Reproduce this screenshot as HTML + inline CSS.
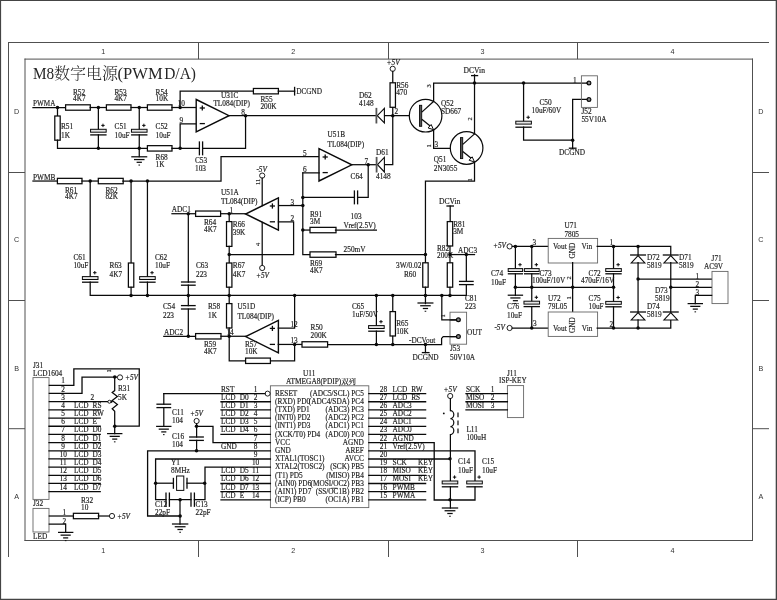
<!DOCTYPE html>
<html lang="zh">
<head>
<meta charset="utf-8">
<title>M8数字电源(PWM D/A)</title>
<style>
html,body{margin:0;padding:0;background:#fff;}
body{width:777px;height:600px;overflow:hidden;}
svg{display:block;filter:grayscale(1);}
svg{font-family:"Liberation Serif","Noto Serif CJK SC",serif;font-size:7.3px;fill:#1c1c1c;}
svg text{stroke:#222;stroke-width:0.16px;}
</style>
</head>
<body>
<svg width="777" height="600" viewBox="0 0 777 600">
<rect x="0" y="0" width="777" height="600" fill="#fff"/>
<g>
<path d="M0,0H777V600H0Z M1.1,1V598.7H775.7V1Z" fill="#444" fill-rule="evenodd"/>
<line x1="8" y1="42.5" x2="769" y2="42.5" stroke="#505050" stroke-width="1" stroke-linecap="butt"/>
<line x1="8.5" y1="42" x2="8.5" y2="557" stroke="#505050" stroke-width="1" stroke-linecap="butt"/>
<line x1="25" y1="58.6" x2="25" y2="541" stroke="#505050" stroke-width="1" stroke-linecap="butt"/>
<line x1="24.5" y1="59.1" x2="753" y2="59.1" stroke="#505050" stroke-width="1" stroke-linecap="butt"/>
<line x1="752.5" y1="58.6" x2="752.5" y2="541" stroke="#505050" stroke-width="1" stroke-linecap="butt"/>
<line x1="24.5" y1="540.5" x2="753" y2="540.5" stroke="#505050" stroke-width="1" stroke-linecap="butt"/>
<line x1="198.5" y1="42.5" x2="198.5" y2="59.1" stroke="#505050" stroke-width="1" stroke-linecap="butt"/>
<line x1="198.5" y1="540.5" x2="198.5" y2="557" stroke="#505050" stroke-width="1" stroke-linecap="butt"/>
<line x1="388.5" y1="42.5" x2="388.5" y2="59.1" stroke="#505050" stroke-width="1" stroke-linecap="butt"/>
<line x1="388.5" y1="540.5" x2="388.5" y2="557" stroke="#505050" stroke-width="1" stroke-linecap="butt"/>
<line x1="577.5" y1="42.5" x2="577.5" y2="59.1" stroke="#505050" stroke-width="1" stroke-linecap="butt"/>
<line x1="577.5" y1="540.5" x2="577.5" y2="557" stroke="#505050" stroke-width="1" stroke-linecap="butt"/>
<line x1="8.5" y1="172.5" x2="25" y2="172.5" stroke="#505050" stroke-width="1" stroke-linecap="butt"/>
<line x1="752.5" y1="172.5" x2="769" y2="172.5" stroke="#505050" stroke-width="1" stroke-linecap="butt"/>
<line x1="8.5" y1="300.5" x2="25" y2="300.5" stroke="#505050" stroke-width="1" stroke-linecap="butt"/>
<line x1="752.5" y1="300.5" x2="769" y2="300.5" stroke="#505050" stroke-width="1" stroke-linecap="butt"/>
<line x1="8.5" y1="428.7" x2="25" y2="428.7" stroke="#505050" stroke-width="1" stroke-linecap="butt"/>
<line x1="752.5" y1="428.7" x2="769" y2="428.7" stroke="#505050" stroke-width="1" stroke-linecap="butt"/>
<text x="103.3" y="53.6" style="stroke:none" text-anchor="middle" font-family='"Liberation Sans",sans-serif' font-size="7.2" fill="#333">1</text>
<text x="103.3" y="552.6" style="stroke:none" text-anchor="middle" font-family='"Liberation Sans",sans-serif' font-size="7.2" fill="#333">1</text>
<text x="293.2" y="53.6" style="stroke:none" text-anchor="middle" font-family='"Liberation Sans",sans-serif' font-size="7.2" fill="#333">2</text>
<text x="293.2" y="552.6" style="stroke:none" text-anchor="middle" font-family='"Liberation Sans",sans-serif' font-size="7.2" fill="#333">2</text>
<text x="482.6" y="53.6" style="stroke:none" text-anchor="middle" font-family='"Liberation Sans",sans-serif' font-size="7.2" fill="#333">3</text>
<text x="482.6" y="552.6" style="stroke:none" text-anchor="middle" font-family='"Liberation Sans",sans-serif' font-size="7.2" fill="#333">3</text>
<text x="672.6" y="53.6" style="stroke:none" text-anchor="middle" font-family='"Liberation Sans",sans-serif' font-size="7.2" fill="#333">4</text>
<text x="672.6" y="552.6" style="stroke:none" text-anchor="middle" font-family='"Liberation Sans",sans-serif' font-size="7.2" fill="#333">4</text>
<text x="16.6" y="114.2" style="stroke:none" text-anchor="middle" font-family='"Liberation Sans",sans-serif' font-size="7.2" fill="#333">D</text>
<text x="760.8" y="114.2" style="stroke:none" text-anchor="middle" font-family='"Liberation Sans",sans-serif' font-size="7.2" fill="#333">D</text>
<text x="16.6" y="242" style="stroke:none" text-anchor="middle" font-family='"Liberation Sans",sans-serif' font-size="7.2" fill="#333">C</text>
<text x="760.8" y="242" style="stroke:none" text-anchor="middle" font-family='"Liberation Sans",sans-serif' font-size="7.2" fill="#333">C</text>
<text x="16.6" y="370.6" style="stroke:none" text-anchor="middle" font-family='"Liberation Sans",sans-serif' font-size="7.2" fill="#333">B</text>
<text x="760.8" y="370.6" style="stroke:none" text-anchor="middle" font-family='"Liberation Sans",sans-serif' font-size="7.2" fill="#333">B</text>
<text x="16.6" y="499" style="stroke:none" text-anchor="middle" font-family='"Liberation Sans",sans-serif' font-size="7.2" fill="#333">A</text>
<text x="760.8" y="499" style="stroke:none" text-anchor="middle" font-family='"Liberation Sans",sans-serif' font-size="7.2" fill="#333">A</text>
<text y="79.3" font-size="16" fill="#262626" style="stroke:none"><tspan x="32.9" textLength="21.2" lengthAdjust="spacingAndGlyphs">M8</tspan><tspan x="54" font-weight="300">数字电源</tspan><tspan x="117.6" textLength="45" lengthAdjust="spacingAndGlyphs">(PWM</tspan><tspan> </tspan><tspan x="164.2" textLength="31.8" lengthAdjust="spacingAndGlyphs">D/A)</tspan></text>
<text x="33" y="106" textLength="22.4" lengthAdjust="spacingAndGlyphs">PWMA</text>
<polyline points="32.96,107.51 65.67,107.51" fill="none" stroke="#0a0a0a" stroke-width="1.25" stroke-linecap="square" stroke-linejoin="miter"/>
<circle cx="57.49" cy="107.51" r="1.75" fill="#0a0a0a"/>
<rect x="65.6" y="104.81" width="24.7" height="5.4" fill="#fff" stroke="#0a0a0a" stroke-width="1.25"/>
<polyline points="90.2,107.51 106.55,107.51" fill="none" stroke="#0a0a0a" stroke-width="1.25" stroke-linecap="square" stroke-linejoin="miter"/>
<circle cx="98.37" cy="107.51" r="1.75" fill="#0a0a0a"/>
<rect x="106.4" y="104.81" width="24.6" height="5.4" fill="#fff" stroke="#0a0a0a" stroke-width="1.25"/>
<polyline points="131.08,107.51 147.44,107.51" fill="none" stroke="#0a0a0a" stroke-width="1.25" stroke-linecap="square" stroke-linejoin="miter"/>
<circle cx="139.26" cy="107.51" r="1.75" fill="#0a0a0a"/>
<rect x="147.4" y="104.81" width="24.6" height="5.4" fill="#fff" stroke="#0a0a0a" stroke-width="1.25"/>
<polyline points="171.97,107.51 196.5,107.51" fill="none" stroke="#0a0a0a" stroke-width="1.25" stroke-linecap="square" stroke-linejoin="miter"/>
<circle cx="180.14" cy="107.51" r="1.75" fill="#0a0a0a"/>
<text x="73" y="94.8">R52</text>
<text x="73" y="101.2">4K7</text>
<text x="114.4" y="94.8">R53</text>
<text x="114.4" y="101.2">4K7</text>
<text x="155.6" y="94.8">R54</text>
<text x="155.6" y="101.2">10K</text>
<polyline points="57.49,107.51 57.49,115.68" fill="none" stroke="#0a0a0a" stroke-width="1.25" stroke-linecap="square" stroke-linejoin="miter"/>
<rect x="54.79" y="116" width="5.4" height="24.2" fill="#fff" stroke="#0a0a0a" stroke-width="1.25"/>
<polyline points="57.49,140.19 57.49,148.36 147.44,148.36" fill="none" stroke="#0a0a0a" stroke-width="1.25" stroke-linecap="square" stroke-linejoin="miter"/>
<text x="61" y="129.4">R51</text>
<text x="61" y="137.8">1K</text>
<polyline points="98.37,107.51 98.37,129.3" fill="none" stroke="#0a0a0a" stroke-width="1.25" stroke-linecap="square" stroke-linejoin="miter"/>
<polyline points="98.37,134.9 98.37,148.36" fill="none" stroke="#0a0a0a" stroke-width="1.25" stroke-linecap="square" stroke-linejoin="miter"/>
<rect x="90.57" y="129.3" width="15.6" height="2.9" fill="#e4e4e4" stroke="#0a0a0a" stroke-width="1"/>
<line x1="90.17" y1="134.9" x2="106.57" y2="134.9" stroke="#0a0a0a" stroke-width="1.3" stroke-linecap="butt"/>
<line x1="101.27" y1="125.4" x2="104.67" y2="125.4" stroke="#0a0a0a" stroke-width="1" stroke-linecap="butt"/>
<line x1="102.97" y1="123.7" x2="102.97" y2="127.1" stroke="#0a0a0a" stroke-width="1" stroke-linecap="butt"/>
<circle cx="98.37" cy="148.36" r="1.75" fill="#0a0a0a"/>
<text x="114.6" y="129.4">C51</text>
<text x="114.6" y="137.8">10uF</text>
<polyline points="139.26,107.51 139.26,129.3" fill="none" stroke="#0a0a0a" stroke-width="1.25" stroke-linecap="square" stroke-linejoin="miter"/>
<polyline points="139.26,134.9 139.26,156.53" fill="none" stroke="#0a0a0a" stroke-width="1.25" stroke-linecap="square" stroke-linejoin="miter"/>
<rect x="131.46" y="129.3" width="15.6" height="2.9" fill="#e4e4e4" stroke="#0a0a0a" stroke-width="1"/>
<line x1="131.06" y1="134.9" x2="147.46" y2="134.9" stroke="#0a0a0a" stroke-width="1.3" stroke-linecap="butt"/>
<line x1="142.16" y1="125.4" x2="145.56" y2="125.4" stroke="#0a0a0a" stroke-width="1" stroke-linecap="butt"/>
<line x1="143.86" y1="123.7" x2="143.86" y2="127.1" stroke="#0a0a0a" stroke-width="1" stroke-linecap="butt"/>
<circle cx="139.26" cy="148.36" r="1.75" fill="#0a0a0a"/>
<line x1="131.26" y1="156.8" x2="147.26" y2="156.8" stroke="#0a0a0a" stroke-width="1.25" stroke-linecap="butt"/>
<line x1="133.98" y1="159.55" x2="144.54" y2="159.55" stroke="#0a0a0a" stroke-width="1.25" stroke-linecap="butt"/>
<line x1="136.62" y1="162.3" x2="141.9" y2="162.3" stroke="#0a0a0a" stroke-width="1.25" stroke-linecap="butt"/>
<line x1="138.46" y1="165.05" x2="140.06" y2="165.05" stroke="#0a0a0a" stroke-width="1" stroke-linecap="butt"/>
<text x="155.6" y="129.4">C52</text>
<text x="155.6" y="137.8">10uF</text>
<rect x="147.4" y="145.66" width="24.6" height="5.4" fill="#fff" stroke="#0a0a0a" stroke-width="1.25"/>
<polyline points="171.97,148.36 199.4,148.36" fill="none" stroke="#0a0a0a" stroke-width="1.25" stroke-linecap="square" stroke-linejoin="miter"/>
<circle cx="180.14" cy="148.36" r="1.75" fill="#0a0a0a"/>
<text x="155.6" y="159.8">R68</text>
<text x="155.6" y="166.8">1K</text>
<line x1="199.4" y1="141.36" x2="199.4" y2="155.36" stroke="#0a0a0a" stroke-width="1.3" stroke-linecap="butt"/>
<line x1="202.6" y1="141.36" x2="202.6" y2="155.36" stroke="#0a0a0a" stroke-width="1.3" stroke-linecap="butt"/>
<polyline points="202.6,148.36 245.56,148.36 245.56,115.68" fill="none" stroke="#0a0a0a" stroke-width="1.25" stroke-linecap="square" stroke-linejoin="miter"/>
<text x="195" y="162.8">C53</text>
<text x="195" y="171.4">103</text>
<polyline points="180.14,148.36 180.14,123.85 196.5,123.85" fill="none" stroke="#0a0a0a" stroke-width="1.25" stroke-linecap="square" stroke-linejoin="miter"/>
<polygon points="196.2,99.5 196.2,131.9 229,115.7" fill="#fff" stroke="#0a0a0a" stroke-width="1.4" stroke-linejoin="miter"/>
<line x1="199.7" y1="108" x2="204.9" y2="108" stroke="#0a0a0a" stroke-width="1.3" stroke-linecap="butt"/>
<line x1="202.3" y1="105.4" x2="202.3" y2="110.6" stroke="#0a0a0a" stroke-width="1.3" stroke-linecap="butt"/>
<line x1="199.7" y1="123.6" x2="204.9" y2="123.6" stroke="#0a0a0a" stroke-width="1.3" stroke-linecap="butt"/>
<text x="177.6" y="106.4">10</text>
<text x="179.6" y="122.5">9</text>
<text x="241.2" y="114.5">8</text>
<text x="221" y="97.6">U31C</text>
<text x="213.4" y="106">TL084(DIP)</text>
<polyline points="229.21,115.68 376.39,115.68" fill="none" stroke="#0a0a0a" stroke-width="1.25" stroke-linecap="square" stroke-linejoin="miter"/>
<circle cx="245.56" cy="115.68" r="1.75" fill="#0a0a0a"/>
<polyline points="180.14,107.51 180.14,91.17 253.74,91.17" fill="none" stroke="#0a0a0a" stroke-width="1.25" stroke-linecap="square" stroke-linejoin="miter"/>
<rect x="253.4" y="88.47" width="25" height="5.4" fill="#fff" stroke="#0a0a0a" stroke-width="1.25"/>
<polyline points="278.27,91.17 294.62,91.17" fill="none" stroke="#0a0a0a" stroke-width="1.25" stroke-linecap="square" stroke-linejoin="miter"/>
<line x1="294.6" y1="86.8" x2="294.6" y2="95.6" stroke="#0a0a0a" stroke-width="1.3" stroke-linecap="butt"/>
<text x="296.2" y="94">DCGND</text>
<text x="260.4" y="102.4">R55</text>
<text x="260.4" y="109.4">200K</text>
<polygon points="377.3,115.68 384.4,108.38 384.4,122.98" fill="#fff" stroke="#0a0a0a" stroke-width="1.1"/>
<line x1="376.4" y1="107.88" x2="376.4" y2="123.48" stroke="#555" stroke-width="1.8" stroke-linecap="butt"/>
<text x="359" y="97.8">D62</text>
<text x="359" y="106">4148</text>
<polyline points="384.57,115.68 420,115.68" fill="none" stroke="#0a0a0a" stroke-width="1.25" stroke-linecap="square" stroke-linejoin="miter"/>
<circle cx="392.75" cy="115.68" r="1.75" fill="#0a0a0a"/>
<text x="386.6" y="65" font-style="italic">+5V</text>
<circle cx="392.7" cy="68.8" r="2.6" fill="#fff" stroke="#0a0a0a" stroke-width="0.9"/>
<polyline points="392.75,71.4 392.75,83" fill="none" stroke="#0a0a0a" stroke-width="1.25" stroke-linecap="square" stroke-linejoin="miter"/>
<rect x="390.05" y="82.8" width="5.4" height="24.5" fill="#fff" stroke="#0a0a0a" stroke-width="1.25"/>
<polyline points="392.75,107.51 392.75,164.7 384.57,164.7" fill="none" stroke="#0a0a0a" stroke-width="1.25" stroke-linecap="square" stroke-linejoin="miter"/>
<text x="396.2" y="88.4">R56</text>
<text x="396.2" y="95.4">470</text>
<text x="394.4" y="114.3">2</text>
<circle cx="425.6" cy="115.7" r="16.3" fill="#fff" stroke="#0a0a0a" stroke-width="1.2"/>
<rect x="419.5" y="105.3" width="2.2" height="21" fill="#555" stroke="#0a0a0a" stroke-width="0.9"/>
<line x1="421.8" y1="112.1" x2="433.8" y2="101.3" stroke="#0a0a0a" stroke-width="1.25" stroke-linecap="butt"/>
<line x1="421.8" y1="119.3" x2="430.8" y2="126.5" stroke="#0a0a0a" stroke-width="1.25" stroke-linecap="butt"/>
<polygon points="433.5,129.7 428.1,127.93 431.17,124.51" fill="#fff" stroke="#0a0a0a" stroke-width="1"/>
<polyline points="433.63,101.3 433.63,83 587,83" fill="none" stroke="#0a0a0a" stroke-width="1.25" stroke-linecap="square" stroke-linejoin="miter"/>
<polyline points="433.63,130.1 433.63,148.36 460.4,148.36" fill="none" stroke="#0a0a0a" stroke-width="1.25" stroke-linecap="square" stroke-linejoin="miter"/>
<text x="431.2" y="87.6" transform="rotate(-90 431.2 87.6)" font-size="6.4">3</text>
<text x="431.4" y="147.6" transform="rotate(-90 431.4 147.6)" font-size="6.4">1</text>
<text x="434.6" y="147.3">3</text>
<text x="441" y="106">Q52</text>
<text x="441" y="113.8">SD667</text>
<circle cx="466.6" cy="148" r="16.3" fill="#fff" stroke="#0a0a0a" stroke-width="1.2"/>
<rect x="460.5" y="137.6" width="2.2" height="21" fill="#555" stroke="#0a0a0a" stroke-width="0.9"/>
<line x1="462.8" y1="144.4" x2="474.8" y2="133.6" stroke="#0a0a0a" stroke-width="1.25" stroke-linecap="butt"/>
<line x1="462.8" y1="151.6" x2="471.8" y2="158.8" stroke="#0a0a0a" stroke-width="1.25" stroke-linecap="butt"/>
<polygon points="474.5,162 469.1,160.23 472.17,156.81" fill="#fff" stroke="#0a0a0a" stroke-width="1"/>
<polyline points="474.52,133.6 474.52,83" fill="none" stroke="#0a0a0a" stroke-width="1.25" stroke-linecap="square" stroke-linejoin="miter"/>
<circle cx="474.52" cy="83" r="1.75" fill="#0a0a0a"/>
<polyline points="474.52,162.4 474.52,181.04 425.45,181.04 425.45,262.74" fill="none" stroke="#0a0a0a" stroke-width="1.25" stroke-linecap="square" stroke-linejoin="miter"/>
<text x="472.4" y="120.4" transform="rotate(-90 472.4 120.4)" font-size="6.4">2</text>
<text x="472.4" y="181.6" transform="rotate(-90 472.4 181.6)" font-size="6.4">1</text>
<text x="433.8" y="162.4">Q51</text>
<text x="433.8" y="170.8">2N3055</text>
<text x="463.6" y="72.8" textLength="21.4" lengthAdjust="spacingAndGlyphs">DCVin</text>
<line x1="471" y1="75.6" x2="478.2" y2="75.6" stroke="#0a0a0a" stroke-width="1.3" stroke-linecap="butt"/>
<polyline points="474.52,74.83 474.52,83" fill="none" stroke="#0a0a0a" stroke-width="1.25" stroke-linecap="square" stroke-linejoin="miter"/>
<circle cx="523.58" cy="83" r="1.75" fill="#0a0a0a"/>
<polyline points="523.58,83 523.58,121.2" fill="none" stroke="#0a0a0a" stroke-width="1.25" stroke-linecap="square" stroke-linejoin="miter"/>
<rect x="515.78" y="121.2" width="15.6" height="2.9" fill="#e4e4e4" stroke="#0a0a0a" stroke-width="1"/>
<line x1="515.38" y1="127.2" x2="531.78" y2="127.2" stroke="#0a0a0a" stroke-width="1.3" stroke-linecap="butt"/>
<line x1="526.48" y1="117.3" x2="529.88" y2="117.3" stroke="#0a0a0a" stroke-width="1" stroke-linecap="butt"/>
<line x1="528.18" y1="115.6" x2="528.18" y2="119" stroke="#0a0a0a" stroke-width="1" stroke-linecap="butt"/>
<polyline points="523.58,127.2 523.58,140.19 572.64,140.19" fill="none" stroke="#0a0a0a" stroke-width="1.25" stroke-linecap="square" stroke-linejoin="miter"/>
<circle cx="572.64" cy="140.19" r="1.75" fill="#0a0a0a"/>
<polyline points="587,99.34 572.64,99.34 572.64,148.36" fill="none" stroke="#0a0a0a" stroke-width="1.25" stroke-linecap="square" stroke-linejoin="miter"/>
<line x1="568.8" y1="148.2" x2="576.6" y2="148.2" stroke="#0a0a0a" stroke-width="1.3" stroke-linecap="butt"/>
<text x="559" y="155.2">DCGND</text>
<text x="539.4" y="105.4">C50</text>
<text x="531.6" y="113.4">10uF/60V</text>
<rect x="581.4" y="75.8" width="16" height="31.6" fill="none" stroke="#666" stroke-width="0.9"/>
<polyline points="587,83 588.99,83" fill="none" stroke="#0a0a0a" stroke-width="1.25" stroke-linecap="square" stroke-linejoin="miter"/>
<circle cx="589" cy="83" r="1.9" fill="#888" stroke="#0a0a0a" stroke-width="1.2"/>
<circle cx="589" cy="99.5" r="1.9" fill="#888" stroke="#0a0a0a" stroke-width="1.2"/>
<text x="573" y="82.7">1</text>
<text x="581.4" y="113.6">J52</text>
<text x="581.4" y="122.4">55V10A</text>
<text x="33" y="179.6" textLength="22.4" lengthAdjust="spacingAndGlyphs">PWMB</text>
<polyline points="32.96,181.04 57.49,181.04" fill="none" stroke="#0a0a0a" stroke-width="1.25" stroke-linecap="square" stroke-linejoin="miter"/>
<rect x="57.4" y="178.34" width="24.6" height="5.4" fill="#fff" stroke="#0a0a0a" stroke-width="1.25"/>
<polyline points="82.02,181.04 98.37,181.04" fill="none" stroke="#0a0a0a" stroke-width="1.25" stroke-linecap="square" stroke-linejoin="miter"/>
<circle cx="90.2" cy="181.04" r="1.75" fill="#0a0a0a"/>
<rect x="98.3" y="178.34" width="24.9" height="5.4" fill="#fff" stroke="#0a0a0a" stroke-width="1.25"/>
<polyline points="122.91,181.04 221.03,181.04 221.03,156.53 319.15,156.53" fill="none" stroke="#0a0a0a" stroke-width="1.25" stroke-linecap="square" stroke-linejoin="miter"/>
<circle cx="131.08" cy="181.04" r="1.75" fill="#0a0a0a"/>
<circle cx="147.44" cy="181.04" r="1.75" fill="#0a0a0a"/>
<text x="65" y="192.8">R61</text>
<text x="65" y="199">4K7</text>
<text x="105.4" y="192.8">R62</text>
<text x="105.4" y="199">82K</text>
<polyline points="90.2,181.04 90.2,276.6" fill="none" stroke="#0a0a0a" stroke-width="1.25" stroke-linecap="square" stroke-linejoin="miter"/>
<rect x="82.4" y="276.6" width="15.6" height="2.9" fill="#e4e4e4" stroke="#0a0a0a" stroke-width="1"/>
<line x1="82" y1="282.2" x2="98.4" y2="282.2" stroke="#0a0a0a" stroke-width="1.3" stroke-linecap="butt"/>
<line x1="93.1" y1="272.7" x2="96.5" y2="272.7" stroke="#0a0a0a" stroke-width="1" stroke-linecap="butt"/>
<line x1="94.8" y1="271" x2="94.8" y2="274.4" stroke="#0a0a0a" stroke-width="1" stroke-linecap="butt"/>
<polyline points="90.2,282.2 90.2,295.42 466.34,295.42" fill="none" stroke="#0a0a0a" stroke-width="1.25" stroke-linecap="square" stroke-linejoin="miter"/>
<text x="73.4" y="260.4">C61</text>
<text x="73.4" y="268.4">10uF</text>
<polyline points="131.08,181.04 131.08,262.74" fill="none" stroke="#0a0a0a" stroke-width="1.25" stroke-linecap="square" stroke-linejoin="miter"/>
<rect x="128.38" y="263" width="5.4" height="24.2" fill="#fff" stroke="#0a0a0a" stroke-width="1.25"/>
<polyline points="131.08,287.25 131.08,295.42" fill="none" stroke="#0a0a0a" stroke-width="1.25" stroke-linecap="square" stroke-linejoin="miter"/>
<circle cx="131.08" cy="295.42" r="1.75" fill="#0a0a0a"/>
<text x="109.6" y="268.4">R63</text>
<text x="109.6" y="277">4K7</text>
<polyline points="147.44,181.04 147.44,276.6" fill="none" stroke="#0a0a0a" stroke-width="1.25" stroke-linecap="square" stroke-linejoin="miter"/>
<rect x="139.64" y="276.6" width="15.6" height="2.9" fill="#e4e4e4" stroke="#0a0a0a" stroke-width="1"/>
<line x1="139.24" y1="282.2" x2="155.64" y2="282.2" stroke="#0a0a0a" stroke-width="1.3" stroke-linecap="butt"/>
<line x1="150.34" y1="272.7" x2="153.74" y2="272.7" stroke="#0a0a0a" stroke-width="1" stroke-linecap="butt"/>
<line x1="152.04" y1="271" x2="152.04" y2="274.4" stroke="#0a0a0a" stroke-width="1" stroke-linecap="butt"/>
<polyline points="147.44,282.2 147.44,295.42" fill="none" stroke="#0a0a0a" stroke-width="1.25" stroke-linecap="square" stroke-linejoin="miter"/>
<circle cx="147.44" cy="295.42" r="1.75" fill="#0a0a0a"/>
<text x="155" y="260.4">C62</text>
<text x="155" y="268.4">10uF</text>
<polygon points="319,148.6 319,181 351.8,164.8" fill="#fff" stroke="#0a0a0a" stroke-width="1.4" stroke-linejoin="miter"/>
<line x1="322.6" y1="157" x2="327.8" y2="157" stroke="#0a0a0a" stroke-width="1.3" stroke-linecap="butt"/>
<line x1="325.2" y1="154.4" x2="325.2" y2="159.6" stroke="#0a0a0a" stroke-width="1.3" stroke-linecap="butt"/>
<line x1="322.6" y1="172.6" x2="327.8" y2="172.6" stroke="#0a0a0a" stroke-width="1.3" stroke-linecap="butt"/>
<text x="303" y="155.5">5</text>
<text x="303" y="171.7">6</text>
<text x="364.4" y="163.7">7</text>
<text x="327.6" y="137.4">U51B</text>
<text x="327.6" y="147">TL084(DIP)</text>
<polyline points="302.8,172.87 319.15,172.87" fill="none" stroke="#0a0a0a" stroke-width="1.25" stroke-linecap="square" stroke-linejoin="miter"/>
<polyline points="302.8,172.87 302.8,254.57 310,254.57" fill="none" stroke="#0a0a0a" stroke-width="1.25" stroke-linecap="square" stroke-linejoin="miter"/>
<polyline points="351.86,164.7 376.39,164.7" fill="none" stroke="#0a0a0a" stroke-width="1.25" stroke-linecap="square" stroke-linejoin="miter"/>
<circle cx="368.21" cy="164.7" r="1.75" fill="#0a0a0a"/>
<polygon points="377.5,164.7 384.4,157.4 384.4,172" fill="#fff" stroke="#0a0a0a" stroke-width="1.1"/>
<line x1="376.6" y1="156.9" x2="376.6" y2="172.5" stroke="#555" stroke-width="1.8" stroke-linecap="butt"/>
<text x="376" y="154.8">D61</text>
<text x="376" y="179.4">4148</text>
<polyline points="368.21,164.7 368.21,197.38 357.6,197.38" fill="none" stroke="#0a0a0a" stroke-width="1.25" stroke-linecap="square" stroke-linejoin="miter"/>
<line x1="354.4" y1="190.38" x2="354.4" y2="204.38" stroke="#0a0a0a" stroke-width="1.3" stroke-linecap="butt"/>
<line x1="357.6" y1="190.38" x2="357.6" y2="204.38" stroke="#0a0a0a" stroke-width="1.3" stroke-linecap="butt"/>
<polyline points="354.4,197.38 302.8,197.38" fill="none" stroke="#0a0a0a" stroke-width="1.25" stroke-linecap="square" stroke-linejoin="miter"/>
<circle cx="302.8" cy="197.38" r="1.75" fill="#0a0a0a"/>
<text x="350.6" y="179.4">C64</text>
<text x="350.6" y="219.4">103</text>
<circle cx="302.8" cy="205.55" r="1.75" fill="#0a0a0a"/>
<polyline points="278.27,205.55 302.8,205.55" fill="none" stroke="#0a0a0a" stroke-width="1.25" stroke-linecap="square" stroke-linejoin="miter"/>
<circle cx="302.8" cy="230.06" r="1.75" fill="#0a0a0a"/>
<polyline points="302.8,230.06 310,230.06" fill="none" stroke="#0a0a0a" stroke-width="1.25" stroke-linecap="square" stroke-linejoin="miter"/>
<rect x="310" y="227.36" width="26" height="5.4" fill="#fff" stroke="#0a0a0a" stroke-width="1.25"/>
<polyline points="335.51,230.06 376.39,230.06" fill="none" stroke="#0a0a0a" stroke-width="1.25" stroke-linecap="square" stroke-linejoin="miter"/>
<text x="310" y="217.4">R91</text>
<text x="310" y="224.2">3M</text>
<text x="343.6" y="228.4">Vref(2.5V)</text>
<rect x="310" y="251.87" width="26" height="5.4" fill="#fff" stroke="#0a0a0a" stroke-width="1.25"/>
<polyline points="335.51,254.57 425.45,254.57" fill="none" stroke="#0a0a0a" stroke-width="1.25" stroke-linecap="square" stroke-linejoin="miter"/>
<circle cx="425.45" cy="254.57" r="1.75" fill="#0a0a0a"/>
<text x="343.6" y="252.4">250mV</text>
<text x="310" y="266">R69</text>
<text x="310" y="273">4K7</text>
<text x="171.8" y="212.4">ADC1</text>
<polyline points="171.97,213.72 195.6,213.72" fill="none" stroke="#0a0a0a" stroke-width="1.25" stroke-linecap="square" stroke-linejoin="miter"/>
<circle cx="188.32" cy="213.72" r="1.75" fill="#0a0a0a"/>
<rect x="195.6" y="211.02" width="25" height="5.4" fill="#fff" stroke="#0a0a0a" stroke-width="1.25"/>
<polyline points="221.03,213.72 245.56,213.72" fill="none" stroke="#0a0a0a" stroke-width="1.25" stroke-linecap="square" stroke-linejoin="miter"/>
<circle cx="229.21" cy="213.72" r="1.75" fill="#0a0a0a"/>
<text x="204" y="225">R64</text>
<text x="204" y="232">4K7</text>
<text x="229.6" y="212.7">1</text>
<polygon points="278.4,197.8 278.4,230.2 245.6,214" fill="#fff" stroke="#0a0a0a" stroke-width="1.4" stroke-linejoin="miter"/>
<line x1="269.8" y1="206" x2="275" y2="206" stroke="#0a0a0a" stroke-width="1.3" stroke-linecap="butt"/>
<line x1="272.4" y1="203.4" x2="272.4" y2="208.6" stroke="#0a0a0a" stroke-width="1.3" stroke-linecap="butt"/>
<line x1="269.8" y1="221.8" x2="275" y2="221.8" stroke="#0a0a0a" stroke-width="1.3" stroke-linecap="butt"/>
<text x="221" y="195.4">U51A</text>
<text x="221" y="204.4">TL084(DIP)</text>
<text x="256.4" y="172" font-style="italic">-5V</text>
<circle cx="262.2" cy="175.6" r="2.6" fill="#fff" stroke="#0a0a0a" stroke-width="0.9"/>
<polyline points="262.2,178.2 262.2,205.6" fill="none" stroke="#0a0a0a" stroke-width="1.25" stroke-linecap="square" stroke-linejoin="miter"/>
<polyline points="262.2,222.4 262.2,265.4" fill="none" stroke="#0a0a0a" stroke-width="1.25" stroke-linecap="square" stroke-linejoin="miter"/>
<circle cx="262.2" cy="268" r="2.6" fill="#fff" stroke="#0a0a0a" stroke-width="0.9"/>
<text x="256" y="277.6" font-style="italic">+5V</text>
<text x="260.2" y="185" transform="rotate(-90 260.2 185)" font-size="6.4">11</text>
<text x="260.2" y="246" transform="rotate(-90 260.2 246)" font-size="6.4">4</text>
<text x="290.6" y="204.5">3</text>
<text x="290.6" y="220.7">2</text>
<polyline points="278.4,221.8 293.6,221.8 293.6,254.6 229.2,254.6" fill="none" stroke="#0a0a0a" stroke-width="1.25" stroke-linecap="square" stroke-linejoin="miter"/>
<polyline points="229.21,213.72 229.21,221.89" fill="none" stroke="#0a0a0a" stroke-width="1.25" stroke-linecap="square" stroke-linejoin="miter"/>
<rect x="226.51" y="221.6" width="5.4" height="24.8" fill="#fff" stroke="#0a0a0a" stroke-width="1.25"/>
<polyline points="229.21,246.4 229.21,262.74" fill="none" stroke="#0a0a0a" stroke-width="1.25" stroke-linecap="square" stroke-linejoin="miter"/>
<circle cx="229.21" cy="254.57" r="1.75" fill="#0a0a0a"/>
<text x="232.8" y="227.4">R66</text>
<text x="232.8" y="235.4">39K</text>
<rect x="226.51" y="263" width="5.4" height="24.2" fill="#fff" stroke="#0a0a0a" stroke-width="1.25"/>
<polyline points="229.21,287.25 229.21,303.59" fill="none" stroke="#0a0a0a" stroke-width="1.25" stroke-linecap="square" stroke-linejoin="miter"/>
<circle cx="229.21" cy="295.42" r="1.75" fill="#0a0a0a"/>
<text x="232.8" y="268.4">R67</text>
<text x="232.8" y="277">4K7</text>
<polyline points="188.32,213.72 188.32,282" fill="none" stroke="#0a0a0a" stroke-width="1.25" stroke-linecap="square" stroke-linejoin="miter"/>
<line x1="180.92" y1="282" x2="195.72" y2="282" stroke="#0a0a0a" stroke-width="1.3" stroke-linecap="butt"/>
<line x1="180.92" y1="285.2" x2="195.72" y2="285.2" stroke="#0a0a0a" stroke-width="1.3" stroke-linecap="butt"/>
<polyline points="188.32,285.2 188.32,305.6" fill="none" stroke="#0a0a0a" stroke-width="1.25" stroke-linecap="square" stroke-linejoin="miter"/>
<circle cx="188.32" cy="295.42" r="1.75" fill="#0a0a0a"/>
<line x1="180.92" y1="305.6" x2="195.72" y2="305.6" stroke="#0a0a0a" stroke-width="1.3" stroke-linecap="butt"/>
<line x1="180.92" y1="309" x2="195.72" y2="309" stroke="#0a0a0a" stroke-width="1.3" stroke-linecap="butt"/>
<polyline points="188.32,309 188.32,336.27" fill="none" stroke="#0a0a0a" stroke-width="1.25" stroke-linecap="square" stroke-linejoin="miter"/>
<text x="196" y="268.4">C63</text>
<text x="196" y="277">223</text>
<text x="163" y="309.4">C54</text>
<text x="163" y="318">223</text>
<text x="164" y="334.8">ADC2</text>
<polyline points="163.79,336.27 195.6,336.27" fill="none" stroke="#0a0a0a" stroke-width="1.25" stroke-linecap="square" stroke-linejoin="miter"/>
<circle cx="188.32" cy="336.27" r="1.75" fill="#0a0a0a"/>
<rect x="195.6" y="333.57" width="25.4" height="5.4" fill="#fff" stroke="#0a0a0a" stroke-width="1.25"/>
<polyline points="221.03,336.27 245.56,336.27" fill="none" stroke="#0a0a0a" stroke-width="1.25" stroke-linecap="square" stroke-linejoin="miter"/>
<circle cx="229.21" cy="336.27" r="1.75" fill="#0a0a0a"/>
<text x="204" y="347.4">R59</text>
<text x="204" y="354">4K7</text>
<rect x="226.51" y="303.6" width="5.4" height="24.4" fill="#fff" stroke="#0a0a0a" stroke-width="1.25"/>
<polyline points="229.21,328.1 229.21,360.78 245.56,360.78" fill="none" stroke="#0a0a0a" stroke-width="1.25" stroke-linecap="square" stroke-linejoin="miter"/>
<text x="208" y="309.4">R58</text>
<text x="208" y="318">1K</text>
<text x="226.4" y="335.3">14</text>
<polygon points="278.4,320.4 278.4,352.8 245.6,336.6" fill="#fff" stroke="#0a0a0a" stroke-width="1.4" stroke-linejoin="miter"/>
<line x1="269.8" y1="328.4" x2="275" y2="328.4" stroke="#0a0a0a" stroke-width="1.3" stroke-linecap="butt"/>
<line x1="272.4" y1="325.8" x2="272.4" y2="331" stroke="#0a0a0a" stroke-width="1.3" stroke-linecap="butt"/>
<line x1="269.8" y1="344.4" x2="275" y2="344.4" stroke="#0a0a0a" stroke-width="1.3" stroke-linecap="butt"/>
<text x="237.4" y="309.4">U51D</text>
<text x="237.4" y="319">TL084(DIP)</text>
<polyline points="278.27,328.1 294.62,328.1 294.62,295.42" fill="none" stroke="#0a0a0a" stroke-width="1.25" stroke-linecap="square" stroke-linejoin="miter"/>
<circle cx="294.62" cy="295.42" r="1.75" fill="#0a0a0a"/>
<text x="290.4" y="327.3">12</text>
<text x="290.4" y="343.3">13</text>
<polyline points="278.27,344.44 302.8,344.44" fill="none" stroke="#0a0a0a" stroke-width="1.25" stroke-linecap="square" stroke-linejoin="miter"/>
<circle cx="294.62" cy="344.44" r="1.75" fill="#0a0a0a"/>
<rect x="302" y="341.74" width="25.6" height="5.4" fill="#fff" stroke="#0a0a0a" stroke-width="1.25"/>
<polyline points="327.6,344.5 441.6,344.5 441.6,338.4 443.2,336.6 458,336.6" fill="none" stroke="#0a0a0a" stroke-width="1.25" stroke-linecap="square" stroke-linejoin="miter"/>
<text x="310.6" y="330.4">R50</text>
<text x="310.6" y="338">200K</text>
<polyline points="294.62,344.44 294.62,360.78 270.09,360.78" fill="none" stroke="#0a0a0a" stroke-width="1.25" stroke-linecap="square" stroke-linejoin="miter"/>
<rect x="245.6" y="358.08" width="24.8" height="5.4" fill="#fff" stroke="#0a0a0a" stroke-width="1.25"/>
<text x="245" y="347.4">R57</text>
<text x="245" y="354">10K</text>
<circle cx="376.39" cy="295.42" r="1.75" fill="#0a0a0a"/>
<circle cx="392.75" cy="295.42" r="1.75" fill="#0a0a0a"/>
<polyline points="376.39,295.42 376.39,325.6" fill="none" stroke="#0a0a0a" stroke-width="1.25" stroke-linecap="square" stroke-linejoin="miter"/>
<rect x="368.59" y="325.6" width="15.6" height="2.9" fill="#e4e4e4" stroke="#0a0a0a" stroke-width="1"/>
<line x1="368.19" y1="331.2" x2="384.59" y2="331.2" stroke="#0a0a0a" stroke-width="1.3" stroke-linecap="butt"/>
<line x1="379.29" y1="321.7" x2="382.69" y2="321.7" stroke="#0a0a0a" stroke-width="1" stroke-linecap="butt"/>
<line x1="380.99" y1="320" x2="380.99" y2="323.4" stroke="#0a0a0a" stroke-width="1" stroke-linecap="butt"/>
<polyline points="376.39,331.2 376.39,344.44" fill="none" stroke="#0a0a0a" stroke-width="1.25" stroke-linecap="square" stroke-linejoin="miter"/>
<circle cx="376.39" cy="344.44" r="1.75" fill="#0a0a0a"/>
<text x="352" y="309.4">C65</text>
<text x="352" y="317.4">1uF/50V</text>
<polyline points="392.75,295.42 392.75,311.76" fill="none" stroke="#0a0a0a" stroke-width="1.25" stroke-linecap="square" stroke-linejoin="miter"/>
<rect x="390.05" y="311.6" width="5.4" height="24.4" fill="#fff" stroke="#0a0a0a" stroke-width="1.25"/>
<polyline points="392.75,336.27 392.75,344.44" fill="none" stroke="#0a0a0a" stroke-width="1.25" stroke-linecap="square" stroke-linejoin="miter"/>
<circle cx="392.75" cy="344.44" r="1.75" fill="#0a0a0a"/>
<text x="396.2" y="326">R65</text>
<text x="396.2" y="333.8">10K</text>
<rect x="422.75" y="262.8" width="5.4" height="24.4" fill="#fff" stroke="#0a0a0a" stroke-width="1.25"/>
<polyline points="425.45,287.25 425.45,303.59" fill="none" stroke="#0a0a0a" stroke-width="1.25" stroke-linecap="square" stroke-linejoin="miter"/>
<circle cx="425.45" cy="295.42" r="1.75" fill="#0a0a0a"/>
<line x1="417.45" y1="303" x2="433.45" y2="303" stroke="#0a0a0a" stroke-width="1.25" stroke-linecap="butt"/>
<line x1="420.17" y1="305.75" x2="430.73" y2="305.75" stroke="#0a0a0a" stroke-width="1.25" stroke-linecap="butt"/>
<line x1="422.81" y1="308.5" x2="428.09" y2="308.5" stroke="#0a0a0a" stroke-width="1.25" stroke-linecap="butt"/>
<line x1="424.65" y1="311.25" x2="426.25" y2="311.25" stroke="#0a0a0a" stroke-width="1" stroke-linecap="butt"/>
<text x="396" y="268.4">3W/0.02</text>
<text x="404" y="277">R60</text>
<text x="439" y="204" textLength="21.4" lengthAdjust="spacingAndGlyphs">DCVin</text>
<line x1="446.4" y1="206" x2="454" y2="206" stroke="#0a0a0a" stroke-width="1.3" stroke-linecap="butt"/>
<polyline points="450.2,206 450.2,221.6" fill="none" stroke="#0a0a0a" stroke-width="1.25" stroke-linecap="square" stroke-linejoin="miter"/>
<rect x="447.28" y="221.6" width="5.4" height="24.4" fill="#fff" stroke="#0a0a0a" stroke-width="1.25"/>
<polyline points="449.98,246.4 449.98,262.74" fill="none" stroke="#0a0a0a" stroke-width="1.25" stroke-linecap="square" stroke-linejoin="miter"/>
<text x="453.2" y="226.8">R81</text>
<text x="453.2" y="234">3M</text>
<text x="437" y="250.8">R82</text>
<text x="437" y="258.4">200K</text>
<circle cx="449.98" cy="254.57" r="1.75" fill="#0a0a0a"/>
<polyline points="449.98,254.57 474.52,254.57" fill="none" stroke="#0a0a0a" stroke-width="1.25" stroke-linecap="square" stroke-linejoin="miter"/>
<text x="458" y="252.8">ADC3</text>
<circle cx="466.34" cy="254.57" r="1.75" fill="#0a0a0a"/>
<rect x="447.28" y="262.8" width="5.4" height="24.4" fill="#fff" stroke="#0a0a0a" stroke-width="1.25"/>
<polyline points="449.98,287.25 449.98,295.42" fill="none" stroke="#0a0a0a" stroke-width="1.25" stroke-linecap="square" stroke-linejoin="miter"/>
<circle cx="449.98" cy="295.42" r="1.75" fill="#0a0a0a"/>
<polyline points="466.34,254.57 466.34,281.4" fill="none" stroke="#0a0a0a" stroke-width="1.25" stroke-linecap="square" stroke-linejoin="miter"/>
<line x1="458.94" y1="281.4" x2="473.74" y2="281.4" stroke="#0a0a0a" stroke-width="1.3" stroke-linecap="butt"/>
<line x1="458.94" y1="284.6" x2="473.74" y2="284.6" stroke="#0a0a0a" stroke-width="1.3" stroke-linecap="butt"/>
<polyline points="466.34,284.6 466.34,295.42" fill="none" stroke="#0a0a0a" stroke-width="1.25" stroke-linecap="square" stroke-linejoin="miter"/>
<text x="465" y="301">C81</text>
<text x="465" y="309.4">223</text>
<circle cx="441.81" cy="295.42" r="1.75" fill="#0a0a0a"/>
<polyline points="441.81,295.42 441.81,319.93 458.16,319.93" fill="none" stroke="#0a0a0a" stroke-width="1.25" stroke-linecap="square" stroke-linejoin="miter"/>
<rect x="450" y="312.2" width="16.6" height="32" fill="none" stroke="#666" stroke-width="0.9"/>
<polyline points="449.98,319.93 458.16,319.93" fill="none" stroke="#0a0a0a" stroke-width="1.25" stroke-linecap="square" stroke-linejoin="miter"/>
<polyline points="450,336.6 458,336.6" fill="none" stroke="#0a0a0a" stroke-width="1.25" stroke-linecap="square" stroke-linejoin="miter"/>
<circle cx="458.4" cy="319.8" r="1.9" fill="#888" stroke="#0a0a0a" stroke-width="1.2"/>
<circle cx="458.4" cy="336.6" r="1.9" fill="#888" stroke="#0a0a0a" stroke-width="1.2"/>
<text x="444.6" y="317.6" transform="rotate(-90 444.6 317.6)" font-size="6.4">1</text>
<text x="467" y="334.8">OUT</text>
<text x="450" y="350.8">J53</text>
<text x="450" y="359.6">50V10A</text>
<text x="409" y="343">-DCVout</text>
<circle cx="425.45" cy="344.44" r="1.75" fill="#0a0a0a"/>
<polyline points="425.45,344.44 425.45,352.61" fill="none" stroke="#0a0a0a" stroke-width="1.25" stroke-linecap="square" stroke-linejoin="miter"/>
<line x1="421.8" y1="352.6" x2="429.6" y2="352.6" stroke="#0a0a0a" stroke-width="1.3" stroke-linecap="butt"/>
<text x="412.6" y="359.8">DCGND</text>
<text x="493" y="248.2" font-style="italic">+5V</text>
<circle cx="509.6" cy="246.4" r="2.6" fill="#fff" stroke="#0a0a0a" stroke-width="0.9"/>
<polyline points="512.2,246.4 548.2,246.4" fill="none" stroke="#0a0a0a" stroke-width="1.25" stroke-linecap="square" stroke-linejoin="miter"/>
<circle cx="515.4" cy="246.4" r="1.75" fill="#0a0a0a"/>
<circle cx="531.75" cy="246.4" r="1.75" fill="#0a0a0a"/>
<text x="532.6" y="244.7">3</text>
<polyline points="515.4,246.4 515.4,268.6" fill="none" stroke="#0a0a0a" stroke-width="1.25" stroke-linecap="square" stroke-linejoin="miter"/>
<rect x="508.2" y="268.6" width="14.4" height="2.9" fill="#e4e4e4" stroke="#0a0a0a" stroke-width="1"/>
<line x1="507.8" y1="273.8" x2="523" y2="273.8" stroke="#0a0a0a" stroke-width="1.3" stroke-linecap="butt"/>
<line x1="518.3" y1="264.7" x2="521.7" y2="264.7" stroke="#0a0a0a" stroke-width="1" stroke-linecap="butt"/>
<line x1="520" y1="263" x2="520" y2="266.4" stroke="#0a0a0a" stroke-width="1" stroke-linecap="butt"/>
<polyline points="515.4,273.8 515.4,295.42" fill="none" stroke="#0a0a0a" stroke-width="1.25" stroke-linecap="square" stroke-linejoin="miter"/>
<circle cx="515.4" cy="287.25" r="1.75" fill="#0a0a0a"/>
<line x1="507.7" y1="295.2" x2="523.1" y2="295.2" stroke="#0a0a0a" stroke-width="1.25" stroke-linecap="butt"/>
<line x1="510.32" y1="297.95" x2="520.48" y2="297.95" stroke="#0a0a0a" stroke-width="1.25" stroke-linecap="butt"/>
<line x1="512.86" y1="300.7" x2="517.94" y2="300.7" stroke="#0a0a0a" stroke-width="1.25" stroke-linecap="butt"/>
<line x1="514.6" y1="303.45" x2="516.2" y2="303.45" stroke="#0a0a0a" stroke-width="1" stroke-linecap="butt"/>
<text x="491" y="276.4">C74</text>
<text x="491" y="284.8">10uF</text>
<polyline points="531.75,246.4 531.75,268.6" fill="none" stroke="#0a0a0a" stroke-width="1.25" stroke-linecap="square" stroke-linejoin="miter"/>
<rect x="524.36" y="268.6" width="14.8" height="2.9" fill="#e4e4e4" stroke="#0a0a0a" stroke-width="1"/>
<line x1="523.96" y1="273.8" x2="539.55" y2="273.8" stroke="#0a0a0a" stroke-width="1.3" stroke-linecap="butt"/>
<line x1="534.65" y1="264.7" x2="538.06" y2="264.7" stroke="#0a0a0a" stroke-width="1" stroke-linecap="butt"/>
<line x1="536.36" y1="263" x2="536.36" y2="266.4" stroke="#0a0a0a" stroke-width="1" stroke-linecap="butt"/>
<polyline points="531.75,273.8 531.75,301.2" fill="none" stroke="#0a0a0a" stroke-width="1.25" stroke-linecap="square" stroke-linejoin="miter"/>
<circle cx="531.75" cy="287.25" r="1.75" fill="#0a0a0a"/>
<text x="539.4" y="276">C73</text>
<text x="532" y="283.4">100uF/10V</text>
<polyline points="515.4,287.25 613.52,287.25" fill="none" stroke="#0a0a0a" stroke-width="1.25" stroke-linecap="square" stroke-linejoin="miter"/>
<circle cx="572.64" cy="287.25" r="1.75" fill="#0a0a0a"/>
<circle cx="613.52" cy="287.25" r="1.75" fill="#0a0a0a"/>
<rect x="548.2" y="238.4" width="49.4" height="24.6" fill="#fff" stroke="#666" stroke-width="0.9"/>
<text x="564.4" y="228.4">U71</text>
<text x="564.4" y="236.8">7805</text>
<text x="553" y="249">Vout</text>
<text x="581.6" y="249">Vin</text>
<text x="574.9" y="258.6" transform="rotate(-90 574.9 258.6)">GND</text>
<polyline points="597.17,246.4 670.76,246.4 670.76,254.57" fill="none" stroke="#0a0a0a" stroke-width="1.25" stroke-linecap="square" stroke-linejoin="miter"/>
<circle cx="613.52" cy="246.4" r="1.75" fill="#0a0a0a"/>
<circle cx="638.06" cy="246.4" r="1.75" fill="#0a0a0a"/>
<text x="609.4" y="244.7">1</text>
<polyline points="572.64,262.74 572.64,311.76" fill="none" stroke="#0a0a0a" stroke-width="1.25" stroke-linecap="square" stroke-linejoin="miter"/>
<text x="571" y="279.4" transform="rotate(-90 571 279.4)" font-size="6.4">2</text>
<text x="571" y="299.4" transform="rotate(-90 571 299.4)" font-size="6.4">1</text>
<polyline points="613.52,246.4 613.52,268.6" fill="none" stroke="#0a0a0a" stroke-width="1.25" stroke-linecap="square" stroke-linejoin="miter"/>
<rect x="605.73" y="268.6" width="15.6" height="2.9" fill="#e4e4e4" stroke="#0a0a0a" stroke-width="1"/>
<line x1="605.33" y1="273.8" x2="621.72" y2="273.8" stroke="#0a0a0a" stroke-width="1.3" stroke-linecap="butt"/>
<line x1="616.42" y1="264.7" x2="619.83" y2="264.7" stroke="#0a0a0a" stroke-width="1" stroke-linecap="butt"/>
<line x1="618.12" y1="263" x2="618.12" y2="266.4" stroke="#0a0a0a" stroke-width="1" stroke-linecap="butt"/>
<polyline points="613.52,273.8 613.52,301.4" fill="none" stroke="#0a0a0a" stroke-width="1.25" stroke-linecap="square" stroke-linejoin="miter"/>
<text x="588.6" y="276">C72</text>
<text x="581" y="283.4">470uF/16V</text>
<rect x="605.73" y="301.4" width="15.6" height="2.9" fill="#e4e4e4" stroke="#0a0a0a" stroke-width="1"/>
<line x1="605.33" y1="306.8" x2="621.72" y2="306.8" stroke="#0a0a0a" stroke-width="1.3" stroke-linecap="butt"/>
<line x1="616.42" y1="297.5" x2="619.83" y2="297.5" stroke="#0a0a0a" stroke-width="1" stroke-linecap="butt"/>
<line x1="618.12" y1="295.8" x2="618.12" y2="299.2" stroke="#0a0a0a" stroke-width="1" stroke-linecap="butt"/>
<polyline points="613.52,306.8 613.52,328.1" fill="none" stroke="#0a0a0a" stroke-width="1.25" stroke-linecap="square" stroke-linejoin="miter"/>
<text x="588.6" y="301">C75</text>
<text x="588.6" y="309.4">10uF</text>
<rect x="523.96" y="301.2" width="15.6" height="2.9" fill="#e4e4e4" stroke="#0a0a0a" stroke-width="1"/>
<line x1="523.56" y1="306.6" x2="539.95" y2="306.6" stroke="#0a0a0a" stroke-width="1.3" stroke-linecap="butt"/>
<line x1="534.65" y1="297.3" x2="538.06" y2="297.3" stroke="#0a0a0a" stroke-width="1" stroke-linecap="butt"/>
<line x1="536.36" y1="295.6" x2="536.36" y2="299" stroke="#0a0a0a" stroke-width="1" stroke-linecap="butt"/>
<polyline points="531.75,306.6 531.75,328.1" fill="none" stroke="#0a0a0a" stroke-width="1.25" stroke-linecap="square" stroke-linejoin="miter"/>
<text x="507" y="309.2">C76</text>
<text x="507" y="318">10uF</text>
<text x="494.4" y="330.4" font-style="italic">-5V</text>
<circle cx="509.6" cy="328" r="2.6" fill="#fff" stroke="#0a0a0a" stroke-width="0.9"/>
<polyline points="512.2,328 548.2,328" fill="none" stroke="#0a0a0a" stroke-width="1.25" stroke-linecap="square" stroke-linejoin="miter"/>
<circle cx="531.75" cy="328.1" r="1.75" fill="#0a0a0a"/>
<text x="533" y="326.3">3</text>
<rect x="548.2" y="312" width="49.4" height="24.4" fill="#fff" stroke="#666" stroke-width="0.9"/>
<text x="548" y="301.2">U72</text>
<text x="548" y="309.4">79L05</text>
<text x="553" y="330.6">Vout</text>
<text x="581.8" y="330.6">Vin</text>
<text x="574.9" y="333" transform="rotate(-90 574.9 333)">GND</text>
<polyline points="597.17,328.1 670.76,328.1 670.76,319.93" fill="none" stroke="#0a0a0a" stroke-width="1.25" stroke-linecap="square" stroke-linejoin="miter"/>
<circle cx="613.52" cy="328.1" r="1.75" fill="#0a0a0a"/>
<circle cx="638.06" cy="328.1" r="1.75" fill="#0a0a0a"/>
<text x="609.6" y="326.5">2</text>
<polyline points="638.06,246.4 638.06,254.57" fill="none" stroke="#0a0a0a" stroke-width="1.25" stroke-linecap="square" stroke-linejoin="miter"/>
<polygon points="638.06,255.6 631.26,263 644.86,263" fill="#fff" stroke="#0a0a0a" stroke-width="1.1"/>
<line x1="630.06" y1="255" x2="646.06" y2="255" stroke="#0a0a0a" stroke-width="1.3" stroke-linecap="butt"/>
<polyline points="638.06,262.74 638.06,311.76" fill="none" stroke="#0a0a0a" stroke-width="1.25" stroke-linecap="square" stroke-linejoin="miter"/>
<polygon points="638.06,312.6 631.26,320 644.86,320" fill="#fff" stroke="#0a0a0a" stroke-width="1.1"/>
<line x1="630.06" y1="312" x2="646.06" y2="312" stroke="#0a0a0a" stroke-width="1.3" stroke-linecap="butt"/>
<polyline points="638.06,319.93 638.06,328.1" fill="none" stroke="#0a0a0a" stroke-width="1.25" stroke-linecap="square" stroke-linejoin="miter"/>
<polygon points="670.76,255.6 663.96,263 677.56,263" fill="#fff" stroke="#0a0a0a" stroke-width="1.1"/>
<line x1="662.76" y1="255" x2="678.76" y2="255" stroke="#0a0a0a" stroke-width="1.3" stroke-linecap="butt"/>
<polyline points="670.76,262.74 670.76,311.76" fill="none" stroke="#0a0a0a" stroke-width="1.25" stroke-linecap="square" stroke-linejoin="miter"/>
<polygon points="670.76,312.6 663.96,320 677.56,320" fill="#fff" stroke="#0a0a0a" stroke-width="1.1"/>
<line x1="662.76" y1="312" x2="678.76" y2="312" stroke="#0a0a0a" stroke-width="1.3" stroke-linecap="butt"/>
<circle cx="638.06" cy="279.08" r="1.75" fill="#0a0a0a"/>
<polyline points="638.06,279.08 711.65,279.08" fill="none" stroke="#0a0a0a" stroke-width="1.25" stroke-linecap="square" stroke-linejoin="miter"/>
<circle cx="670.76" cy="287.25" r="1.75" fill="#0a0a0a"/>
<polyline points="670.76,287.25 711.65,287.25" fill="none" stroke="#0a0a0a" stroke-width="1.25" stroke-linecap="square" stroke-linejoin="miter"/>
<text x="647" y="260.4">D72</text>
<text x="647" y="268">5819</text>
<text x="679" y="260.4">D71</text>
<text x="679" y="268">5819</text>
<text x="655" y="292.8">D73</text>
<text x="655" y="300.8">5819</text>
<text x="647" y="309.4">D74</text>
<text x="647" y="317.4">5819</text>
<rect x="712" y="271.4" width="16" height="32.2" fill="#fff" stroke="#666" stroke-width="0.9"/>
<text x="711.6" y="260.8">J71</text>
<text x="704" y="269.4">AC9V</text>
<polyline points="711.65,295.42 695.29,295.42 695.29,303.59" fill="none" stroke="#0a0a0a" stroke-width="1.25" stroke-linecap="square" stroke-linejoin="miter"/>
<line x1="687.59" y1="303.6" x2="703" y2="303.6" stroke="#0a0a0a" stroke-width="1.25" stroke-linecap="butt"/>
<line x1="690.21" y1="306.35" x2="700.38" y2="306.35" stroke="#0a0a0a" stroke-width="1.25" stroke-linecap="butt"/>
<line x1="692.75" y1="309.1" x2="697.84" y2="309.1" stroke="#0a0a0a" stroke-width="1.25" stroke-linecap="butt"/>
<line x1="694.5" y1="311.85" x2="696.09" y2="311.85" stroke="#0a0a0a" stroke-width="1" stroke-linecap="butt"/>
<text x="695.4" y="278.5">1</text>
<text x="695.4" y="286.5">2</text>
<text x="695.4" y="294.7">3</text>
<text x="33" y="367.8">J31</text>
<text x="33" y="376.4">LCD1604</text>
<rect x="33" y="377.6" width="16" height="121.8" fill="#fff" stroke="#666" stroke-width="0.9"/>
<polyline points="49.31,385.29 73.84,385.29 73.84,368.95 139.26,368.95 139.26,426.14 114.73,426.14" fill="none" stroke="#0a0a0a" stroke-width="1.3" stroke-linecap="square" stroke-linejoin="miter"/>
<polyline points="49.31,393.46 82.02,393.46 82.02,377.12 117.4,377.12" fill="none" stroke="#0a0a0a" stroke-width="1.3" stroke-linecap="square" stroke-linejoin="miter"/>
<polyline points="49.31,401.63 107.8,401.63" fill="none" stroke="#0a0a0a" stroke-width="1.3" stroke-linecap="square" stroke-linejoin="miter"/>
<text x="63.2" y="383.4" text-anchor="middle">1</text>
<text x="63.2" y="391.57" text-anchor="middle">2</text>
<text x="63.2" y="399.74" text-anchor="middle">3</text>
<text x="63.2" y="407.92" text-anchor="middle">4</text>
<polyline points="49,409.92 100.2,409.92" fill="none" stroke="#0a0a0a" stroke-width="1.3" stroke-linecap="square" stroke-linejoin="miter"/>
<text x="74" y="407.92">LCD</text>
<text x="92.6" y="407.92">RS</text>
<text x="63.2" y="416.09" text-anchor="middle">5</text>
<polyline points="49,418.09 100.2,418.09" fill="none" stroke="#0a0a0a" stroke-width="1.3" stroke-linecap="square" stroke-linejoin="miter"/>
<text x="74" y="416.09">LCD</text>
<text x="92.6" y="416.09">RW</text>
<text x="63.2" y="424.26" text-anchor="middle">6</text>
<polyline points="49,426.26 100.2,426.26" fill="none" stroke="#0a0a0a" stroke-width="1.3" stroke-linecap="square" stroke-linejoin="miter"/>
<text x="74" y="424.26">LCD</text>
<text x="92.6" y="424.26">E</text>
<text x="63.2" y="432.43" text-anchor="middle">7</text>
<polyline points="49,434.43 100.2,434.43" fill="none" stroke="#0a0a0a" stroke-width="1.3" stroke-linecap="square" stroke-linejoin="miter"/>
<text x="74" y="432.43">LCD</text>
<text x="92.6" y="432.43">D0</text>
<text x="63.2" y="440.6" text-anchor="middle">8</text>
<polyline points="49,442.6 100.2,442.6" fill="none" stroke="#0a0a0a" stroke-width="1.3" stroke-linecap="square" stroke-linejoin="miter"/>
<text x="74" y="440.6">LCD</text>
<text x="92.6" y="440.6">D1</text>
<text x="63.2" y="448.78" text-anchor="middle">9</text>
<polyline points="49,450.78 100.2,450.78" fill="none" stroke="#0a0a0a" stroke-width="1.3" stroke-linecap="square" stroke-linejoin="miter"/>
<text x="74" y="448.78">LCD</text>
<text x="92.6" y="448.78">D2</text>
<text x="63.2" y="456.95" text-anchor="middle">10</text>
<polyline points="49,458.95 100.2,458.95" fill="none" stroke="#0a0a0a" stroke-width="1.3" stroke-linecap="square" stroke-linejoin="miter"/>
<text x="74" y="456.95">LCD</text>
<text x="92.6" y="456.95">D3</text>
<text x="63.2" y="465.12" text-anchor="middle">11</text>
<polyline points="49,467.12 100.2,467.12" fill="none" stroke="#0a0a0a" stroke-width="1.3" stroke-linecap="square" stroke-linejoin="miter"/>
<text x="74" y="465.12">LCD</text>
<text x="92.6" y="465.12">D4</text>
<text x="63.2" y="473.29" text-anchor="middle">12</text>
<polyline points="49,475.29 100.2,475.29" fill="none" stroke="#0a0a0a" stroke-width="1.3" stroke-linecap="square" stroke-linejoin="miter"/>
<text x="74" y="473.29">LCD</text>
<text x="92.6" y="473.29">D5</text>
<text x="63.2" y="481.46" text-anchor="middle">13</text>
<polyline points="49,483.46 100.2,483.46" fill="none" stroke="#0a0a0a" stroke-width="1.3" stroke-linecap="square" stroke-linejoin="miter"/>
<text x="74" y="481.46">LCD</text>
<text x="92.6" y="481.46">D6</text>
<text x="63.2" y="489.64" text-anchor="middle">14</text>
<polyline points="49,491.64 100.2,491.64" fill="none" stroke="#0a0a0a" stroke-width="1.3" stroke-linecap="square" stroke-linejoin="miter"/>
<text x="74" y="489.64">LCD</text>
<text x="92.6" y="489.64">D7</text>
<circle cx="114.73" cy="377.12" r="1.75" fill="#0a0a0a"/>
<circle cx="120" cy="377.4" r="2.6" fill="#fff" stroke="#0a0a0a" stroke-width="0.9"/>
<text x="125" y="379.8" font-style="italic">+5V</text>
<polyline points="114.7,377.4 114.7,390.6 112.2,392.4 117.4,396.4 112.2,400.6 117.4,404.6 112.2,408.8 114.7,411.2 114.7,433.6" fill="none" stroke="#0a0a0a" stroke-width="1.25" stroke-linecap="square" stroke-linejoin="miter"/>
<circle cx="109.4" cy="401.74" r="1.5" fill="#fff" stroke="#0a0a0a" stroke-width="0.9"/>
<polygon points="113.2,401.74 110.9,400.14 110.9,403.34" fill="#0a0a0a"/>
<circle cx="114.73" cy="426.14" r="1.75" fill="#0a0a0a"/>
<line x1="107.03" y1="433.6" x2="122.43" y2="433.6" stroke="#0a0a0a" stroke-width="1.25" stroke-linecap="butt"/>
<line x1="109.65" y1="436.35" x2="119.81" y2="436.35" stroke="#0a0a0a" stroke-width="1.25" stroke-linecap="butt"/>
<line x1="112.19" y1="439.1" x2="117.27" y2="439.1" stroke="#0a0a0a" stroke-width="1.25" stroke-linecap="butt"/>
<line x1="113.93" y1="441.85" x2="115.53" y2="441.85" stroke="#0a0a0a" stroke-width="1" stroke-linecap="butt"/>
<text x="118" y="391.4">R31</text>
<text x="118" y="399.8">5K</text>
<text x="90.4" y="399.7">2</text>
<text x="111.4" y="372.6" transform="rotate(-90 111.4 372.6)" font-size="6.4">1</text>
<text x="33" y="506.4">J32</text>
<rect x="33" y="508.4" width="16" height="23.6" fill="#fff" stroke="#666" stroke-width="0.9"/>
<text x="33" y="539">LED</text>
<polyline points="49.31,516.01 73.84,516.01" fill="none" stroke="#0a0a0a" stroke-width="1.25" stroke-linecap="square" stroke-linejoin="miter"/>
<rect x="73.4" y="513.31" width="25.2" height="5.4" fill="#fff" stroke="#0a0a0a" stroke-width="1.25"/>
<polyline points="98.37,516.01 109.4,516.01" fill="none" stroke="#0a0a0a" stroke-width="1.25" stroke-linecap="square" stroke-linejoin="miter"/>
<circle cx="112" cy="516" r="2.6" fill="#fff" stroke="#0a0a0a" stroke-width="0.9"/>
<text x="117" y="518.6" font-style="italic">+5V</text>
<text x="81" y="502.8">R32</text>
<text x="81" y="510.3">10</text>
<polyline points="49.31,524.18 65.67,524.18 65.67,532.35" fill="none" stroke="#0a0a0a" stroke-width="1.25" stroke-linecap="square" stroke-linejoin="miter"/>
<line x1="57.97" y1="532.4" x2="73.37" y2="532.4" stroke="#0a0a0a" stroke-width="1.25" stroke-linecap="butt"/>
<line x1="60.58" y1="535.15" x2="70.75" y2="535.15" stroke="#0a0a0a" stroke-width="1.25" stroke-linecap="butt"/>
<line x1="63.12" y1="537.9" x2="68.21" y2="537.9" stroke="#0a0a0a" stroke-width="1.25" stroke-linecap="butt"/>
<line x1="64.87" y1="540.65" x2="66.47" y2="540.65" stroke="#0a0a0a" stroke-width="1" stroke-linecap="butt"/>
<text x="62.6" y="514.9">1</text>
<text x="62.6" y="523.5">2</text>
<rect x="270.4" y="385.8" width="98.4" height="121.8" fill="#fff" stroke="#666" stroke-width="0.9"/>
<text x="303" y="376">U11</text>
<text x="286" y="383.6" textLength="70" lengthAdjust="spacingAndGlyphs">ATMEGA8(PDIP)双列</text>
<text x="275" y="395.8">RESET</text>
<text x="255.6" y="391.6" text-anchor="middle">1</text>
<text x="221" y="391.6">RST</text>
<text x="275" y="403.97">(RXD) PD0</text>
<text x="255.6" y="399.77" text-anchor="middle">2</text>
<text x="221" y="399.77">LCD</text>
<text x="239.8" y="399.77">D0</text>
<polyline points="221,401.77 270.4,401.77" fill="none" stroke="#0a0a0a" stroke-width="1.3" stroke-linecap="square" stroke-linejoin="miter"/>
<text x="275" y="412.14">(TXD) PD1</text>
<text x="255.6" y="407.94" text-anchor="middle">3</text>
<text x="221" y="407.94">LCD</text>
<text x="239.8" y="407.94">D1</text>
<polyline points="221,409.94 270.4,409.94" fill="none" stroke="#0a0a0a" stroke-width="1.3" stroke-linecap="square" stroke-linejoin="miter"/>
<text x="275" y="420.32">(INT0) PD2</text>
<text x="255.6" y="416.12" text-anchor="middle">4</text>
<text x="221" y="416.12">LCD</text>
<text x="239.8" y="416.12">D2</text>
<polyline points="221,418.12 270.4,418.12" fill="none" stroke="#0a0a0a" stroke-width="1.3" stroke-linecap="square" stroke-linejoin="miter"/>
<text x="275" y="428.49">(INT1) PD3</text>
<text x="255.6" y="424.29" text-anchor="middle">5</text>
<text x="221" y="424.29">LCD</text>
<text x="239.8" y="424.29">D3</text>
<polyline points="221,426.29 270.4,426.29" fill="none" stroke="#0a0a0a" stroke-width="1.3" stroke-linecap="square" stroke-linejoin="miter"/>
<text x="275" y="436.66">(XCK/T0) PD4</text>
<text x="255.6" y="432.46" text-anchor="middle">6</text>
<text x="221" y="432.46">LCD</text>
<text x="239.8" y="432.46">D4</text>
<polyline points="221,434.46 270.4,434.46" fill="none" stroke="#0a0a0a" stroke-width="1.3" stroke-linecap="square" stroke-linejoin="miter"/>
<text x="275" y="444.83">VCC</text>
<text x="255.6" y="440.63" text-anchor="middle">7</text>
<text x="275" y="453">GND</text>
<text x="255.6" y="448.8" text-anchor="middle">8</text>
<text x="221" y="448.8">GND</text>
<text x="275" y="461.18">XTAL1(TOSC1)</text>
<text x="255.6" y="456.98" text-anchor="middle">9</text>
<text x="275" y="469.35">XTAL2(TOSC2)</text>
<text x="255.6" y="465.15" text-anchor="middle">10</text>
<text x="275" y="477.52">(T1) PD5</text>
<text x="255.6" y="473.32" text-anchor="middle">11</text>
<text x="221" y="473.32">LCD</text>
<text x="239.8" y="473.32">D5</text>
<polyline points="221,475.32 270.4,475.32" fill="none" stroke="#0a0a0a" stroke-width="1.3" stroke-linecap="square" stroke-linejoin="miter"/>
<text x="275" y="485.69">(AIN0) PD6</text>
<text x="255.6" y="481.49" text-anchor="middle">12</text>
<text x="221" y="481.49">LCD</text>
<text x="239.8" y="481.49">D6</text>
<polyline points="221,483.49 270.4,483.49" fill="none" stroke="#0a0a0a" stroke-width="1.3" stroke-linecap="square" stroke-linejoin="miter"/>
<text x="275" y="493.86">(AIN1) PD7</text>
<text x="255.6" y="489.66" text-anchor="middle">13</text>
<text x="221" y="489.66">LCD</text>
<text x="239.8" y="489.66">D7</text>
<polyline points="221,491.66 270.4,491.66" fill="none" stroke="#0a0a0a" stroke-width="1.3" stroke-linecap="square" stroke-linejoin="miter"/>
<text x="275" y="502.04">(ICP) PB0</text>
<text x="255.6" y="497.84" text-anchor="middle">14</text>
<text x="221" y="497.84">LCD</text>
<text x="239.8" y="497.84">E</text>
<polyline points="221,499.84 270.4,499.84" fill="none" stroke="#0a0a0a" stroke-width="1.3" stroke-linecap="square" stroke-linejoin="miter"/>
<text x="363.8" y="395.8" text-anchor="end">(ADC5/SCL) PC5</text>
<text x="383.4" y="391.6" text-anchor="middle">28</text>
<text x="363.8" y="403.97" text-anchor="end">(ADC4/SDA) PC4</text>
<text x="383.4" y="399.77" text-anchor="middle">27</text>
<text x="363.8" y="412.14" text-anchor="end">(ADC3) PC3</text>
<text x="383.4" y="407.94" text-anchor="middle">26</text>
<text x="363.8" y="420.32" text-anchor="end">(ADC2) PC2</text>
<text x="383.4" y="416.12" text-anchor="middle">25</text>
<text x="363.8" y="428.49" text-anchor="end">(ADC1) PC1</text>
<text x="383.4" y="424.29" text-anchor="middle">24</text>
<text x="363.8" y="436.66" text-anchor="end">(ADC0) PC0</text>
<text x="383.4" y="432.46" text-anchor="middle">23</text>
<text x="363.8" y="444.83" text-anchor="end">AGND</text>
<text x="383.4" y="440.63" text-anchor="middle">22</text>
<text x="363.8" y="453" text-anchor="end">AREF</text>
<text x="383.4" y="448.8" text-anchor="middle">21</text>
<text x="363.8" y="461.18" text-anchor="end">AVCC</text>
<text x="383.4" y="456.98" text-anchor="middle">20</text>
<text x="363.8" y="469.35" text-anchor="end">(SCK) PB5</text>
<text x="383.4" y="465.15" text-anchor="middle">19</text>
<text x="363.8" y="477.52" text-anchor="end">(MISO) PB4</text>
<text x="383.4" y="473.32" text-anchor="middle">18</text>
<text x="363.8" y="485.69" text-anchor="end">(MOSI/OC2) PB3</text>
<text x="383.4" y="481.49" text-anchor="middle">17</text>
<text x="363.8" y="493.86" text-anchor="end">(SS/OC1B) PB2</text>
<text x="383.4" y="489.66" text-anchor="middle">16</text>
<text x="363.8" y="502.04" text-anchor="end">(OC1A) PB1</text>
<text x="383.4" y="497.84" text-anchor="middle">15</text>
<line x1="331.4" y1="488.26" x2="337.4" y2="488.26" stroke="#0a0a0a" stroke-width="0.7" stroke-linecap="butt"/>
<text x="392.6" y="391.6">LCD</text>
<text x="411.2" y="391.6">RW</text>
<text x="392.6" y="399.77">LCD</text>
<text x="411.2" y="399.77">RS</text>
<text x="392.6" y="407.94">ADC3</text>
<text x="392.6" y="416.12">ADC2</text>
<text x="392.6" y="424.29">ADC1</text>
<text x="392.6" y="432.46">ADC0</text>
<text x="392.6" y="440.63">AGND</text>
<text x="392.6" y="448.8">Vref(2.5V)</text>
<text x="392.6" y="465.15">SCK</text>
<text x="418" y="465.15">KEY</text>
<text x="392.6" y="473.32">MISO</text>
<text x="418" y="473.32">KEY</text>
<text x="392.6" y="481.49">MOSI</text>
<text x="418" y="481.49">KEY</text>
<text x="392.6" y="489.66">PWMB</text>
<text x="392.6" y="497.84">PWMA</text>
<polyline points="368.8,393.6 425.6,393.6" fill="none" stroke="#0a0a0a" stroke-width="1.3" stroke-linecap="square" stroke-linejoin="miter"/>
<polyline points="368.8,401.77 425.6,401.77" fill="none" stroke="#0a0a0a" stroke-width="1.3" stroke-linecap="square" stroke-linejoin="miter"/>
<polyline points="368.8,409.94 425.6,409.94" fill="none" stroke="#0a0a0a" stroke-width="1.3" stroke-linecap="square" stroke-linejoin="miter"/>
<polyline points="368.8,418.12 425.6,418.12" fill="none" stroke="#0a0a0a" stroke-width="1.3" stroke-linecap="square" stroke-linejoin="miter"/>
<polyline points="368.8,426.29 425.6,426.29" fill="none" stroke="#0a0a0a" stroke-width="1.3" stroke-linecap="square" stroke-linejoin="miter"/>
<polyline points="368.8,434.46 425.6,434.46" fill="none" stroke="#0a0a0a" stroke-width="1.3" stroke-linecap="square" stroke-linejoin="miter"/>
<polyline points="368.8,467.15 425.6,467.15" fill="none" stroke="#0a0a0a" stroke-width="1.3" stroke-linecap="square" stroke-linejoin="miter"/>
<polyline points="368.8,475.32 425.6,475.32" fill="none" stroke="#0a0a0a" stroke-width="1.3" stroke-linecap="square" stroke-linejoin="miter"/>
<polyline points="368.8,483.49 425.6,483.49" fill="none" stroke="#0a0a0a" stroke-width="1.3" stroke-linecap="square" stroke-linejoin="miter"/>
<polyline points="368.8,491.66 425.6,491.66" fill="none" stroke="#0a0a0a" stroke-width="1.3" stroke-linecap="square" stroke-linejoin="miter"/>
<polyline points="368.8,499.84 425.6,499.84" fill="none" stroke="#0a0a0a" stroke-width="1.3" stroke-linecap="square" stroke-linejoin="miter"/>
<circle cx="267.6" cy="393.6" r="2.5" fill="#fff" stroke="#0a0a0a" stroke-width="0.9"/>
<polyline points="163.8,393.6 265,393.6" fill="none" stroke="#0a0a0a" stroke-width="1.3" stroke-linecap="square" stroke-linejoin="miter"/>
<polyline points="163.8,393.6 163.8,404.2" fill="none" stroke="#0a0a0a" stroke-width="1.25" stroke-linecap="square" stroke-linejoin="miter"/>
<line x1="156.39" y1="404.2" x2="171.19" y2="404.2" stroke="#0a0a0a" stroke-width="1.3" stroke-linecap="butt"/>
<line x1="156.39" y1="407.6" x2="171.19" y2="407.6" stroke="#0a0a0a" stroke-width="1.3" stroke-linecap="butt"/>
<polyline points="163.8,407.6 163.8,426.4" fill="none" stroke="#0a0a0a" stroke-width="1.25" stroke-linecap="square" stroke-linejoin="miter"/>
<line x1="156.09" y1="426.4" x2="171.49" y2="426.4" stroke="#0a0a0a" stroke-width="1.25" stroke-linecap="butt"/>
<line x1="158.71" y1="429.15" x2="168.87" y2="429.15" stroke="#0a0a0a" stroke-width="1.25" stroke-linecap="butt"/>
<line x1="161.25" y1="431.9" x2="166.33" y2="431.9" stroke="#0a0a0a" stroke-width="1.25" stroke-linecap="butt"/>
<line x1="162.99" y1="434.65" x2="164.59" y2="434.65" stroke="#0a0a0a" stroke-width="1" stroke-linecap="butt"/>
<text x="172" y="415.4">C11</text>
<text x="172" y="423.4">104</text>
<text x="190" y="416" font-style="italic">+5V</text>
<circle cx="196.6" cy="421" r="2.6" fill="#fff" stroke="#0a0a0a" stroke-width="0.9"/>
<polyline points="196.6,423.6 196.6,437" fill="none" stroke="#0a0a0a" stroke-width="1.25" stroke-linecap="square" stroke-linejoin="miter"/>
<circle cx="196.5" cy="426.14" r="1.75" fill="#0a0a0a"/>
<polyline points="196.6,426.4 213,426.4 213,442.63 270.4,442.63" fill="none" stroke="#0a0a0a" stroke-width="1.3" stroke-linecap="square" stroke-linejoin="miter"/>
<line x1="189.1" y1="437" x2="203.9" y2="437" stroke="#0a0a0a" stroke-width="1.3" stroke-linecap="butt"/>
<line x1="189.1" y1="440.4" x2="203.9" y2="440.4" stroke="#0a0a0a" stroke-width="1.3" stroke-linecap="butt"/>
<polyline points="196.6,440.4 196.6,450.8" fill="none" stroke="#0a0a0a" stroke-width="1.25" stroke-linecap="square" stroke-linejoin="miter"/>
<circle cx="196.5" cy="450.65" r="1.75" fill="#0a0a0a"/>
<text x="172" y="439.4">C16</text>
<text x="172" y="447">104</text>
<polyline points="270.4,450.8 147.6,450.8 147.6,516 180,516" fill="none" stroke="#0a0a0a" stroke-width="1.3" stroke-linecap="square" stroke-linejoin="miter"/>
<polyline points="270.4,458.98 155.6,458.98 155.6,499.6 166,499.6" fill="none" stroke="#0a0a0a" stroke-width="1.3" stroke-linecap="square" stroke-linejoin="miter"/>
<polyline points="270.4,467.15 205,467.15 205,499.6 194.4,499.6" fill="none" stroke="#0a0a0a" stroke-width="1.3" stroke-linecap="square" stroke-linejoin="miter"/>
<circle cx="155.61" cy="483.33" r="1.75" fill="#0a0a0a"/>
<circle cx="204.67" cy="483.33" r="1.75" fill="#0a0a0a"/>
<polyline points="155.6,483.2 173.4,483.2" fill="none" stroke="#0a0a0a" stroke-width="1.25" stroke-linecap="square" stroke-linejoin="miter"/>
<polyline points="187,483.2 205,483.2" fill="none" stroke="#0a0a0a" stroke-width="1.25" stroke-linecap="square" stroke-linejoin="miter"/>
<line x1="173.4" y1="477.8" x2="173.4" y2="488.8" stroke="#0a0a0a" stroke-width="1.3" stroke-linecap="butt"/>
<line x1="187" y1="477.8" x2="187" y2="488.8" stroke="#0a0a0a" stroke-width="1.3" stroke-linecap="butt"/>
<rect x="176.6" y="476" width="7.2" height="14.4" fill="#fff" stroke="#0a0a0a" stroke-width="1"/>
<text x="171" y="465.4">Y1</text>
<text x="171" y="473">8MHz</text>
<line x1="166" y1="492.47" x2="166" y2="506.87" stroke="#0a0a0a" stroke-width="1.3" stroke-linecap="butt"/>
<line x1="169.4" y1="492.47" x2="169.4" y2="506.87" stroke="#0a0a0a" stroke-width="1.3" stroke-linecap="butt"/>
<line x1="191" y1="492.47" x2="191" y2="506.87" stroke="#0a0a0a" stroke-width="1.3" stroke-linecap="butt"/>
<line x1="194.4" y1="492.47" x2="194.4" y2="506.87" stroke="#0a0a0a" stroke-width="1.3" stroke-linecap="butt"/>
<polyline points="169.4,499.6 191,499.6" fill="none" stroke="#0a0a0a" stroke-width="1.25" stroke-linecap="square" stroke-linejoin="miter"/>
<circle cx="180.14" cy="499.67" r="1.75" fill="#0a0a0a"/>
<polyline points="180,499.6 180,524" fill="none" stroke="#0a0a0a" stroke-width="1.25" stroke-linecap="square" stroke-linejoin="miter"/>
<circle cx="180.14" cy="516.01" r="1.75" fill="#0a0a0a"/>
<line x1="171.94" y1="524" x2="188.34" y2="524" stroke="#0a0a0a" stroke-width="1.25" stroke-linecap="butt"/>
<line x1="174.73" y1="526.75" x2="185.56" y2="526.75" stroke="#0a0a0a" stroke-width="1.25" stroke-linecap="butt"/>
<line x1="177.44" y1="529.5" x2="182.85" y2="529.5" stroke="#0a0a0a" stroke-width="1.25" stroke-linecap="butt"/>
<line x1="179.34" y1="532.25" x2="180.94" y2="532.25" stroke="#0a0a0a" stroke-width="1" stroke-linecap="butt"/>
<text x="155" y="506.8">C12</text>
<text x="155" y="514.8">22pF</text>
<text x="195.6" y="506.8">C13</text>
<text x="195.6" y="514.8">22pF</text>
<polyline points="368.8,442.63 434.2,442.63 434.2,500 475,500 475,487" fill="none" stroke="#0a0a0a" stroke-width="1.3" stroke-linecap="square" stroke-linejoin="miter"/>
<polyline points="368.8,450.8 475,450.8 475,481" fill="none" stroke="#0a0a0a" stroke-width="1.3" stroke-linecap="square" stroke-linejoin="miter"/>
<polyline points="368.8,458.98 450.4,458.98" fill="none" stroke="#0a0a0a" stroke-width="1.3" stroke-linecap="square" stroke-linejoin="miter"/>
<circle cx="449.98" cy="458.82" r="1.75" fill="#0a0a0a"/>
<text x="443.6" y="391.8" font-style="italic">+5V</text>
<circle cx="450.2" cy="396" r="2.6" fill="#fff" stroke="#0a0a0a" stroke-width="0.9"/>
<polyline points="450.4,398.6 450.4,410.6" fill="none" stroke="#0a0a0a" stroke-width="1.25" stroke-linecap="square" stroke-linejoin="miter"/>
<path d="M450.4,410.6 a3.4,4 0 0 1 0,8 a3.4,4 0 0 1 0,8 a3.4,4 0 0 1 0,8" fill="none" stroke="#0a0a0a" stroke-width="1.2"/>
<polyline points="450.4,434.6 450.4,481" fill="none" stroke="#0a0a0a" stroke-width="1.25" stroke-linecap="square" stroke-linejoin="miter"/>
<circle cx="443.8" cy="413.4" r="0.9" fill="#0a0a0a"/>
<line x1="458" y1="412.4" x2="458" y2="433.4" stroke="#0a0a0a" stroke-width="1.2" stroke-dasharray="4.8,3.2"/>
<text x="466.4" y="431.8">L11</text>
<text x="466.4" y="439.6">100uH</text>
<rect x="442.18" y="481" width="15.6" height="2.9" fill="#e4e4e4" stroke="#0a0a0a" stroke-width="1"/>
<line x1="441.78" y1="486.8" x2="458.18" y2="486.8" stroke="#0a0a0a" stroke-width="1.3" stroke-linecap="butt"/>
<line x1="452.88" y1="477.1" x2="456.28" y2="477.1" stroke="#0a0a0a" stroke-width="1" stroke-linecap="butt"/>
<line x1="454.58" y1="475.4" x2="454.58" y2="478.8" stroke="#0a0a0a" stroke-width="1" stroke-linecap="butt"/>
<polyline points="450.4,486.8 450.4,508" fill="none" stroke="#0a0a0a" stroke-width="1.25" stroke-linecap="square" stroke-linejoin="miter"/>
<circle cx="449.98" cy="499.67" r="1.75" fill="#0a0a0a"/>
<line x1="441.78" y1="508" x2="458.18" y2="508" stroke="#0a0a0a" stroke-width="1.25" stroke-linecap="butt"/>
<line x1="444.57" y1="510.75" x2="455.4" y2="510.75" stroke="#0a0a0a" stroke-width="1.25" stroke-linecap="butt"/>
<line x1="447.28" y1="513.5" x2="452.69" y2="513.5" stroke="#0a0a0a" stroke-width="1.25" stroke-linecap="butt"/>
<line x1="449.18" y1="516.25" x2="450.78" y2="516.25" stroke="#0a0a0a" stroke-width="1" stroke-linecap="butt"/>
<rect x="466.72" y="481" width="15.6" height="2.9" fill="#e4e4e4" stroke="#0a0a0a" stroke-width="1"/>
<line x1="466.32" y1="486.8" x2="482.72" y2="486.8" stroke="#0a0a0a" stroke-width="1.3" stroke-linecap="butt"/>
<line x1="477.42" y1="477.1" x2="480.82" y2="477.1" stroke="#0a0a0a" stroke-width="1" stroke-linecap="butt"/>
<line x1="479.12" y1="475.4" x2="479.12" y2="478.8" stroke="#0a0a0a" stroke-width="1" stroke-linecap="butt"/>
<text x="458" y="464.4">C14</text>
<text x="458" y="472.8">10uF</text>
<text x="482" y="464.4">C15</text>
<text x="482" y="472.8">10uF</text>
<text x="507" y="376">J11</text>
<text x="499" y="382.8" textLength="27.6" lengthAdjust="spacingAndGlyphs">ISP-KEY</text>
<rect x="507.4" y="385.6" width="16.2" height="32" fill="#fff" stroke="#666" stroke-width="0.9"/>
<polyline points="466,393.6 507.4,393.6" fill="none" stroke="#0a0a0a" stroke-width="1.3" stroke-linecap="square" stroke-linejoin="miter"/>
<text x="466" y="391.6">SCK</text>
<text x="492.6" y="391.6" text-anchor="middle">1</text>
<polyline points="466,401.77 507.4,401.77" fill="none" stroke="#0a0a0a" stroke-width="1.3" stroke-linecap="square" stroke-linejoin="miter"/>
<text x="466" y="399.77">MISO</text>
<text x="492.6" y="399.77" text-anchor="middle">2</text>
<polyline points="466,409.94 507.4,409.94" fill="none" stroke="#0a0a0a" stroke-width="1.3" stroke-linecap="square" stroke-linejoin="miter"/>
<text x="466" y="407.94">MOSI</text>
<text x="492.6" y="407.94" text-anchor="middle">3</text>
</g>
</svg>
</body>
</html>
